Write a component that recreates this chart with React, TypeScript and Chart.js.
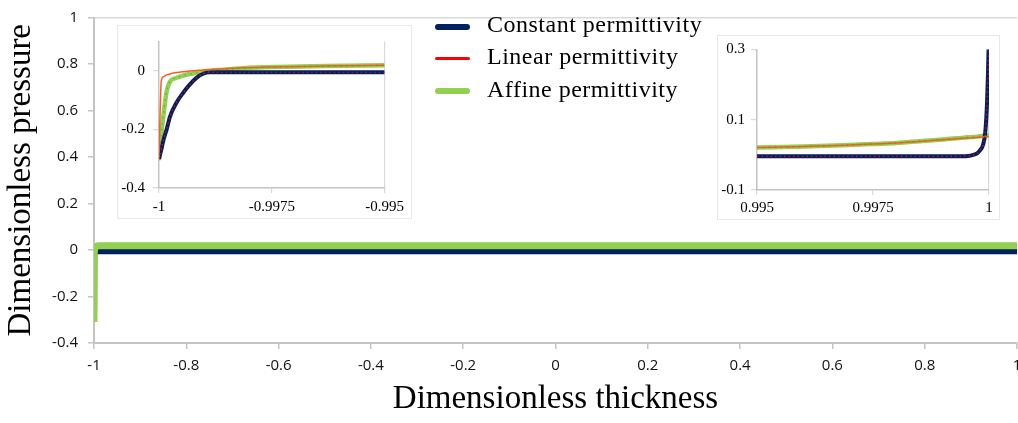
import React, { useEffect, useRef } from "react";
import { Chart, registerables } from "chart.js";
Chart.register(...registerables);

const NAVY = "#002060";
const RED = "#ff0000";
const GREEN = "#92d050";
const TEAL = "#2f9e6e";
const ORANGE = "#ff5a1f";
const AXIS = "#c4c4c4";
const GRID = "#d9d9d9";

const seriesNames = ["Constant permittivity", "Linear permittivity", "Affine permittivity"];

// main chart
const mainX = [-1, -0.9995, -0.999, -0.998, -0.99, 0, 0.99, 0.998, 0.999, 1];
const mainConstant = [-0.3, -0.07, -0.008, -0.005, -0.005, -0.005, -0.005, -0.005, -0.005, -0.005];
const mainLinear = [-0.3, -0.006, 0.0, 0.01, 0.018, 0.018, 0.018, 0.018, 0.018, 0.018];
const mainAffine = [-0.31, -0.02, -0.004, 0.009, 0.018, 0.018, 0.018, 0.018, 0.018, 0.018];
const mainXTicks = [-1, -0.8, -0.6, -0.4, -0.2, 0, 0.2, 0.4, 0.6, 0.8, 1];
const mainYTicks = [-0.4, -0.2, 0, 0.2, 0.4, 0.6, 0.8, 1];

// left inset (near x = -1)
const leftX = [-1, -0.99995, -0.9999, -0.99983, -0.99976, -0.99961, -0.99946, -0.99932, -0.99917, -0.99902, -0.99888, -0.99866, -0.99814, -0.99741, -0.99631, -0.995];
const leftConstant = [-0.3, -0.27, -0.235, -0.2, -0.158, -0.108, -0.074, -0.047, -0.024, -0.01, -0.005, -0.005, -0.005, -0.005, -0.005, -0.005];
const leftLinear = [-0.3, -0.035, -0.02, -0.014, -0.011, -0.006, -0.003, -0.001, 0.001, 0.003, 0.004, 0.006, 0.01, 0.013, 0.016, 0.019];
const leftAffine = [-0.305, -0.22, -0.15, -0.07, -0.038, -0.024, -0.016, -0.011, -0.007, -0.003, 0.0, 0.003, 0.009, 0.013, 0.016, 0.019];
const leftXTicks = [-1, -0.9975, -0.995];
const leftYTicks = [-0.4, -0.2, 0];

// right inset (near x = 1)
const rightX = [0.995, 0.996, 0.997, 0.9975, 0.998, 0.9985, 0.999, 0.9993, 0.99955, 0.99966, 0.99975, 0.9998, 0.99987, 0.99992, 0.99996, 0.99999, 1];
const rightConstant = [-0.004, -0.004, -0.004, -0.004, -0.004, -0.004, -0.004, -0.004, -0.003, 0.0, 0.005, 0.012, 0.028, 0.065, 0.157, 0.3, 0.4];
const rightLinear = [0.021, 0.024, 0.028, 0.031, 0.034, 0.038, 0.043, 0.046, 0.048, 0.049, 0.05, 0.05, 0.051, 0.052, 0.052, 0.052, 0.053];
const rightAffine = [0.021, 0.024, 0.028, 0.031, 0.034, 0.039, 0.044, 0.047, 0.05, 0.051, 0.052, 0.053, 0.054, 0.055, 0.055, 0.056, 0.056];
const rightXTicks = [0.995, 0.9975, 1];
const rightYTicks = [-0.1, 0.1, 0.3];

const fmt = (v: any) => String(Number(Number(v).toFixed(5)));

function ds(label: string, xs: number[], ys: number[], color: string, width: number, order: number, dash?: number[]) {
  return {
    label,
    data: xs.map((x, i) => ({ x, y: ys[i] })),
    borderColor: color,
    backgroundColor: color,
    borderWidth: width,
    pointRadius: 0,
    fill: false,
    order,
    cubicInterpolationMode: "monotone" as const,
    borderDash: dash || [],
    borderCapStyle: "butt" as const,
  };
}

function mainConfig(): any {
  return {
    type: "line",
    data: {
      datasets: [
        ds(seriesNames[2], mainX, mainAffine, GREEN, 7, 1),
        ds(seriesNames[0], mainX, mainConstant, NAVY, 6, 2),
        ds(seriesNames[1], mainX, mainLinear, RED, 2, 3),
      ],
    },
    options: {
      responsive: false,
      animation: false,
      layout: { padding: { left: 0, top: 7, right: 23, bottom: 0 } },
      plugins: { legend: { display: false }, tooltip: { enabled: false } },
      scales: {
        x: {
          type: "linear",
          min: -1,
          max: 1,
          afterBuildTicks: (s: any) => { s.ticks = mainXTicks.map((value) => ({ value })); },
          afterFit: (s: any) => { s.height = 80; },
          grid: { drawOnChartArea: false, tickLength: 6, tickColor: AXIS, lineWidth: 1.5 },
          border: { color: AXIS, width: 2 },
          ticks: { font: { family: "Open Sans", size: 15, lineHeight: 1 }, color: "#111", padding: 9, maxRotation: 0, autoSkip: false, callback: fmt },
          title: { display: true, text: "Dimensionless thickness", color: "#000", font: { family: "Liberation Serif", size: 33, lineHeight: 1 }, padding: { top: 0, bottom: 7 } },
        },
        y: {
          type: "linear",
          min: -0.4,
          max: 1,
          afterBuildTicks: (s: any) => { s.ticks = mainYTicks.map((value) => ({ value })); },
          afterFit: (s: any) => { s.width = 94; },
          grid: {
            drawOnChartArea: true,
            color: (c: any) => (c.tick && Math.abs(c.tick.value - 1) < 1e-9 ? GRID : "rgba(0,0,0,0)"),
            tickColor: AXIS,
            tickLength: 6,
            lineWidth: 1.5,
          },
          border: { color: AXIS, width: 2 },
          ticks: { font: { family: "Open Sans", size: 15, lineHeight: 1 }, color: "#111", padding: 10, autoSkip: false, callback: fmt },
          title: { display: true, text: "Dimensionless pressure", color: "#000", font: { family: "Liberation Serif", size: 33, lineHeight: 1 }, padding: { top: 5, bottom: 0 } },
        },
      },
    },
  };
}

function insetConfig(xs: number[], cons: number[], lin: number[], aff: number[], xTicks: number[], yTicks: number[],
  xmin: number, xmax: number, ymin: number, ymax: number, gridAt: number, yWidth: number, xHeight: number,
  pad: { top: number; right: number }, xPad: number, yPad: number): any {
  return {
    type: "line",
    data: {
      datasets: [
        ds(seriesNames[0] + " (ref)", xs, cons, RED, 1.2, 1, [1.5, 3]),
        ds(seriesNames[2] + " (ref)", xs, aff, TEAL, 1.2, 2, [1, 5]),
        ds(seriesNames[1], xs, lin, ORANGE, 1.5, 3),
        ds(seriesNames[0], xs, cons, NAVY, 4, 4),
        ds(seriesNames[2], xs, aff, GREEN, 4.5, 5),
      ],
    },
    options: {
      responsive: false,
      animation: false,
      layout: { padding: { left: 0, top: pad.top, right: pad.right, bottom: 0 } },
      plugins: { legend: { display: false }, tooltip: { enabled: false } },
      scales: {
        x: {
          type: "linear",
          min: xmin,
          max: xmax,
          afterBuildTicks: (s: any) => { s.ticks = xTicks.map((value) => ({ value })); },
          afterFit: (s: any) => { s.height = xHeight; },
          grid: {
            drawOnChartArea: true,
            color: (c: any) => (c.tick && Math.abs(c.tick.value - gridAt) < 1e-9 ? GRID : "rgba(0,0,0,0)"),
            tickColor: GRID,
            tickLength: 5,
            lineWidth: 1.2,
          },
          border: { color: AXIS, width: 1.5 },
          ticks: { font: { family: "Liberation Serif", size: 15, lineHeight: 1 }, color: "#000", padding: xPad, maxRotation: 0, autoSkip: false, callback: fmt },
        },
        y: {
          type: "linear",
          min: ymin,
          max: ymax,
          afterBuildTicks: (s: any) => { s.ticks = yTicks.map((value) => ({ value })); },
          afterFit: (s: any) => { s.width = yWidth; },
          grid: { drawOnChartArea: false, tickColor: GRID, tickLength: 6, lineWidth: 1.2 },
          border: { color: AXIS, width: 1.5 },
          ticks: { font: { family: "Liberation Serif", size: 15, lineHeight: 1 }, color: "#000", padding: yPad, autoSkip: false, callback: fmt },
        },
      },
    },
  };
}

function ChartCanvas({ width, height, build, style }: { width: number; height: number; build: () => any; style?: React.CSSProperties }) {
  const ref = useRef<HTMLCanvasElement | null>(null);
  useEffect(() => {
    const chart = new Chart(ref.current as HTMLCanvasElement, build());
    return () => chart.destroy();
  }, []);
  return <canvas ref={ref} width={width} height={height} style={{ position: "absolute", width, height, ...style }} />;
}

const legendColors = [NAVY, RED, GREEN];
const legendWidths = [6.5, 3, 6.5];

export default function App() {
  const box: React.CSSProperties = { position: "absolute", background: "#fff", border: "1px solid #e8e8e8" };
  return (
    <div style={{ position: "absolute", left: 0, top: 0, width: 1018, height: 423, overflow: "hidden", background: "#fff" }}>
      <ChartCanvas width={1040} height={423} build={mainConfig} style={{ left: 0, top: 0 }} />
      <div style={{ ...box, left: 117, top: 25, width: 293, height: 192 }}>
        <ChartCanvas
          width={293}
          height={192}
          style={{ left: 0, top: 0 }}
          build={() => insetConfig(leftX, leftConstant, leftLinear, leftAffine, leftXTicks, leftYTicks, -1, -0.995, -0.4, 0.1, -0.995, 41, 30, { top: 12, right: 25 }, 7, 8)}
        />
      </div>
      <div style={{ ...box, left: 717, top: 35, width: 281, height: 183 }}>
        <ChartCanvas
          width={281}
          height={183}
          style={{ left: 0, top: 0 }}
          build={() => insetConfig(rightX, rightConstant, rightLinear, rightAffine, rightXTicks, rightYTicks, 0.995, 1, -0.1, 0.3, 1, 39, 29, { top: 9, right: 10 }, 6, 6)}
        />
      </div>
      {seriesNames.map((name, i) => (
        <React.Fragment key={name}>
          <div
            style={{
              position: "absolute",
              left: 435,
              top: [27, 58.3, 91][i] - legendWidths[i] / 2,
              width: 35,
              height: legendWidths[i],
              borderRadius: legendWidths[i] / 2,
              background: legendColors[i],
            }}
          />
          <div
            style={{
              position: "absolute",
              left: 487,
              top: [11.6, 44.2, 76.6][i],
              fontFamily: "Liberation Serif",
              fontSize: 24,
              lineHeight: "24px",
              letterSpacing: "0.5px",
              color: "#000",
              whiteSpace: "nowrap",
            }}
          >
            {name}
          </div>
        </React.Fragment>
      ))}
    </div>
  );
}
